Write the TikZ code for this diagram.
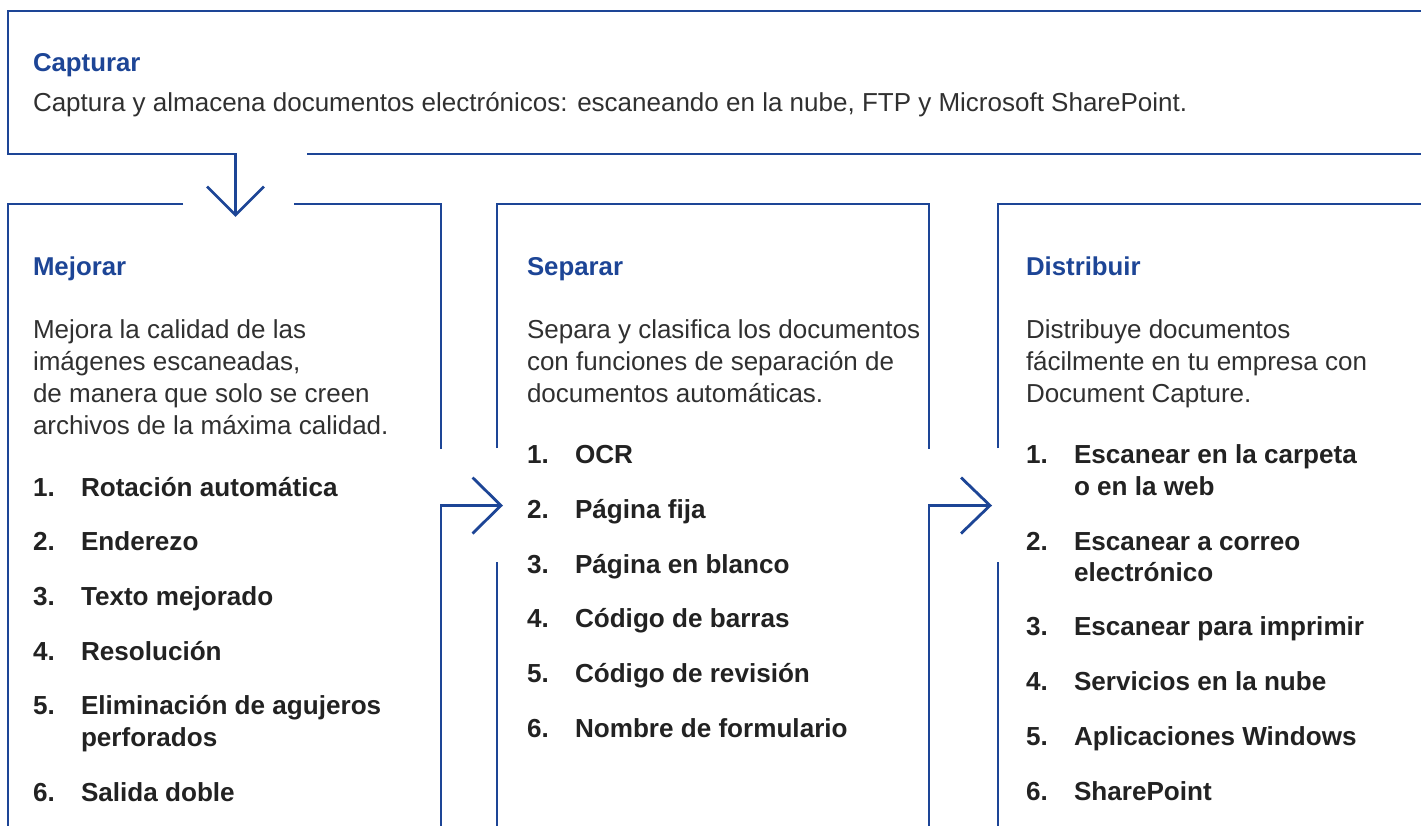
\documentclass[tikz,border=0pt]{standalone}
\usepackage{fontspec}
\setmainfont{Liberation Sans}
\definecolor{cblue}{HTML}{1D4596}
\definecolor{ctext}{HTML}{303030}
\definecolor{citem}{HTML}{222222}
\tikzset{
  frame/.style={draw=cblue, line width=2.8pt, line cap=butt, line join=miter},
  head/.style={anchor=base west, inner sep=0pt, outer sep=0pt, text=cblue, font=\fontsize{25.8}{30}\selectfont\bfseries},
  body/.style={anchor=base west, inner sep=0pt, outer sep=0pt, text=ctext, font=\fontsize{26}{30}\selectfont},
  item/.style={anchor=base west, inner sep=0pt, outer sep=0pt, text=citem, font=\fontsize{26.1}{30}\selectfont\bfseries},
}
\begin{document}
\begin{tikzpicture}[x=1pt,y=-1pt]
\useasboundingbox (0,0) rectangle (1421,825);
% ---------- frames ----------
\coordinate (capTR) at (1430,11);
\coordinate (capTL) at (8,11);
\coordinate (capBL) at (8,154);
\coordinate (capStem) at (235.5,154);
\coordinate (capTip) at (235.5,215);
\coordinate (capBR0) at (307,154);
\coordinate (capBR1) at (1430,154);
\draw[frame] (capTR) -- (capTL) -- (capBL) -- (capStem) -- (capTip);
\draw[frame] (capBR0) -- (capBR1);
\draw[frame] (207,186.5) -- (capTip) -- (264,186.5);
% box 1
\coordinate (b1a) at (183,204);
\coordinate (b1b) at (294,204);
\coordinate (b1r) at (441,204);
\coordinate (b1rm) at (441,449);
\coordinate (b1ar) at (441,505.5);
\coordinate (tip1) at (501,505.5);
\draw[frame] (b1a) -- (8,204) -- (8,830);
\draw[frame] (b1b) -- (b1r) -- (b1rm);
\draw[frame] (441,830) -- (b1ar) -- (tip1);
\draw[frame] (472.5,477.5) -- (tip1) -- (472.5,533.5);
% box 2
\coordinate (b2lu) at (497,448);
\coordinate (b2ll) at (497,562);
\coordinate (b2rm) at (929,449);
\coordinate (b2ar) at (929,505.5);
\coordinate (tip2) at (990,505.5);
\draw[frame] (b2lu) -- (497,204) -- (929,204) -- (b2rm);
\draw[frame] (b2ll) -- (497,830);
\draw[frame] (929,830) -- (b2ar) -- (tip2);
\draw[frame] (961,477.5) -- (tip2) -- (961,533.5);
% box 3
\coordinate (b3lu) at (998,448);
\coordinate (b3ll) at (998,562);
\draw[frame] (b3lu) -- (998,204) -- (1430,204);
\draw[frame] (b3ll) -- (998,830);
% ---------- texts ----------
\node[head] (capH) at (33,71) {Capturar};
\node[body] (capT) at (33,111) {Captura y almacena documentos electrónicos: escaneando en la nube, FTP y Microsoft SharePoint.};
% column 1
\node[head] (h1) at (33,275) {Mejorar};
\node[body] (d1a) at (33,338) {Mejora la calidad de las};
\node[body] (d1b) at (33,370) {imágenes escaneadas,};
\node[body] (d1c) at (33,402) {de manera que solo se creen};
\node[body] (d1d) at (33,434) {archivos de la máxima calidad.};
\node[item] (n11) at (33,496) {1.};   \node[item] (i11) at (81,496) {Rotación automática};
\node[item] (n12) at (33,550.7) {2.}; \node[item] (i12) at (81,550.7) {Enderezo};
\node[item] (n13) at (33,605.4) {3.}; \node[item] (i13) at (81,605.4) {Texto mejorado};
\node[item] (n14) at (33,660) {4.};   \node[item] (i14) at (81,660) {Resolución};
\node[item] (n15) at (33,714.8) {5.}; \node[item] (i15) at (81,714.8) {Eliminación de agujeros};
\node[item] (i15b) at (81,746.3) {perforados};
\node[item] (n16) at (33,801) {6.};   \node[item] (i16) at (81,801) {Salida doble};
% column 2
\node[head] (h2) at (527,275) {Separar};
\node[body] (d2a) at (527,338) {Separa y clasifica los documentos};
\node[body] (d2b) at (527,370) {con funciones de separación de};
\node[body] (d2c) at (527,402) {documentos automáticas.};
\node[item] (n21) at (527,463.5) {1.}; \node[item] (i21) at (575,463.5) {OCR};
\node[item] (n22) at (527,518.3) {2.}; \node[item] (i22) at (575,518.3) {Página fija};
\node[item] (n23) at (527,573) {3.};   \node[item] (i23) at (575,573) {Página en blanco};
\node[item] (n24) at (527,627.7) {4.}; \node[item] (i24) at (575,627.7) {Código de barras};
\node[item] (n25) at (527,682.4) {5.}; \node[item] (i25) at (575,682.4) {Código de revisión};
\node[item] (n26) at (527,737) {6.};   \node[item] (i26) at (575,737) {Nombre de formulario};
% column 3
\node[head] (h3) at (1026,275) {Distribuir};
\node[body] (d3a) at (1026,338) {Distribuye documentos};
\node[body] (d3b) at (1026,370) {fácilmente en tu empresa con};
\node[body] (d3c) at (1026,402) {Document Capture.};
\node[item] (n31) at (1026,463.5) {1.}; \node[item] (i31) at (1074,463.5) {Escanear en la carpeta};
\node[item] (i31b) at (1074,495) {o en la web};
\node[item] (n32) at (1026,550) {2.};   \node[item] (i32) at (1074,550) {Escanear a correo};
\node[item] (i32b) at (1074,581.5) {electrónico};
\node[item] (n33) at (1026,635.5) {3.}; \node[item] (i33) at (1074,635.5) {Escanear para imprimir};
\node[item] (n34) at (1026,690.3) {4.}; \node[item] (i34) at (1074,690.3) {Servicios en la nube};
\node[item] (n35) at (1026,745) {5.};   \node[item] (i35) at (1074,745) {Aplicaciones Windows};
\node[item] (n36) at (1026,800) {6.};   \node[item] (i36) at (1074,800) {SharePoint};
\end{tikzpicture}
\end{document}
